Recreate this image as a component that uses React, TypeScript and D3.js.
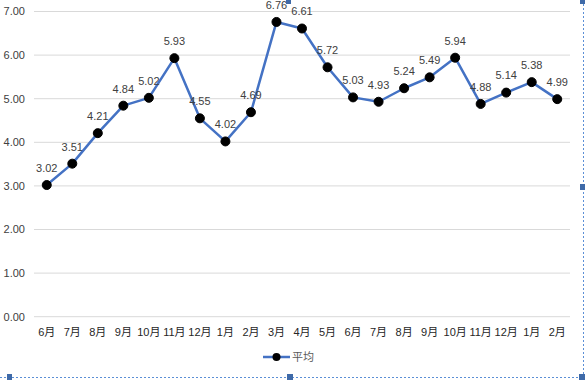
import React from "react";
import * as d3 from "d3";

const categories = ["6月","7月","8月","9月","10月","11月","12月","1月","2月","3月","4月","5月","6月","7月","8月","9月","10月","11月","12月","1月","2月"];
const values = [3.02,3.51,4.21,4.84,5.02,5.93,4.55,4.02,4.69,6.76,6.61,5.72,5.03,4.93,5.24,5.49,5.94,4.88,5.14,5.38,4.99];
const yTicks = [0,1,2,3,4,5,6,7];
const seriesName = "平均";

const W = 585, H = 380;
const left = 34, right = 570, top = 11.5, bottom = 316.7;
const font = "'Liberation Sans', 'Noto Sans CJK SC', sans-serif";

export default function App() {
  const x = d3.scaleBand<string>().domain(categories.map((_, i) => String(i))).range([left, right]);
  const y = d3.scaleLinear().domain([0, 7]).range([bottom, top]);
  const cx = (i: number) => (x(String(i)) as number) + x.bandwidth() / 2;
  const line = d3.line<number>().x((_, i) => cx(i)).y(d => y(d));
  return (
    <svg width={W} height={H} style={{ position: "absolute", left: 0, top: 0, background: "#fff" }}>
      <rect x={0} y={0} width={W} height={H} fill="#fff" />
      {yTicks.map(t => (
        <g key={t}>
          <line x1={left} x2={right} y1={y(t)} y2={y(t)} stroke="#d9d9d9" strokeWidth={1} />
          <text x={25} y={y(t)} dy="0.35em" textAnchor="end" fontSize={11} fontFamily={font} fill="#404040">{t.toFixed(2)}</text>
        </g>
      ))}
      {categories.map((c, i) => (
        <text key={i} x={cx(i)} y={332} dy="0.35em" textAnchor="middle" fontSize={11} fontFamily={font} fill="#262626">{c}</text>
      ))}
      <path d={line(values) as string} fill="none" stroke="#4472C4" strokeWidth={2.5} strokeLinejoin="round" />
      {values.map((v, i) => (
        <g key={i}>
          <circle cx={cx(i)} cy={y(v)} r={4.5} fill="#000" stroke="#000" />
          <text x={cx(i)} y={y(v) - 17} dy="0.35em" textAnchor="middle" fontSize={11} fontFamily={font} fill="#404040">{v.toFixed(2)}</text>
        </g>
      ))}
      <g>
        <line x1={263} x2={290} y1={357} y2={357} stroke="#4472C4" strokeWidth={2.5} />
        <circle cx={276.5} cy={357} r={4} fill="#000" />
        <text x={292} y={357} dy="0.35em" fontSize={11} fontFamily={font} fill="#595959">{seriesName}</text>
      </g>
      <line x1={583.5} x2={583.5} y1={0} y2={377} stroke="#5b8fd6" strokeDasharray="2,2" strokeWidth={1} />
      <line x1={0} x2={584} y1={377.5} y2={377.5} stroke="#5b8fd6" strokeDasharray="2,2" strokeWidth={1} />
      <rect x={286} y={0} width={5} height={4} fill="#3f6aa8" />
      <rect x={580} y={0} width={6} height={4} fill="#3f6aa8" />
      <rect x={580} y={184} width={6} height={6} fill="#3f6aa8" />
      <rect x={7} y={374} width={5} height={6} fill="#3f6aa8" />
      <rect x={287} y={374} width={6} height={6} fill="#3f6aa8" />
      <rect x={579} y={374} width={6} height={6} fill="#3f6aa8" />
    </svg>
  );
}
